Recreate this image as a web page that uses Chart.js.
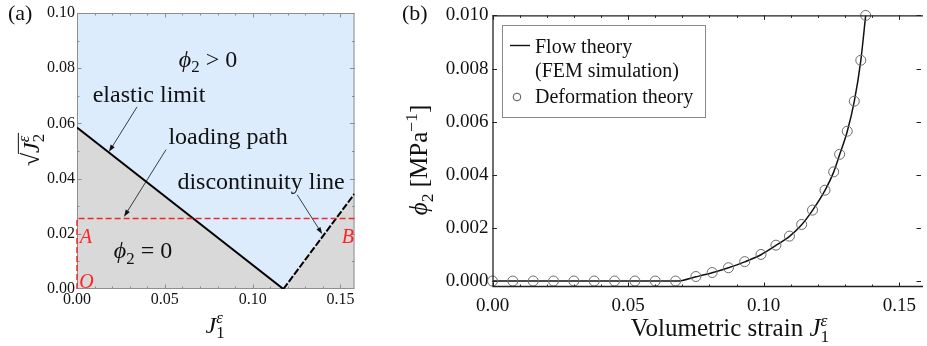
<!DOCTYPE html>
<html>
<head>
<meta charset="utf-8">
<script src="https://cdn.jsdelivr.net/npm/chart.js@4.4.1/dist/chart.umd.min.js"></script>
<style>
  html, body { margin: 0; padding: 0; background: #fff; }
  #wrap { position: relative; width: 927px; height: 346px; overflow: hidden; }
  #cA { position: absolute; left: 0; top: 0; }
  #cB { position: absolute; left: 400px; top: 0; }
</style>
</head>
<body>
<div id="wrap">
  <canvas id="cA" width="375" height="346"></canvas>
  <canvas id="cB" width="527" height="346"></canvas>
</div>
<script>
// ---- (a) strain-space diagram ----
const elasticJ1 = [0, 0.1175];
const elasticJ2 = [0.0585, 0];
const discJ1 = [0.1175, 0.158];
const discJ2 = [0, 0.0345];
const pathJ1 = [0, 0, 0.158];
const pathJ2 = [0, 0.0255, 0.0255];
const ticksAx = [0, 0.05, 0.10, 0.15];
const ticksAy = [0, 0.02, 0.04, 0.06, 0.08, 0.10];

// ---- (b) phi_2 vs volumetric strain ----
const flowJ1 = [0, 0.068, 0.075, 0.081, 0.087, 0.093, 0.099, 0.1045, 0.1095, 0.114, 0.118,
                0.1226, 0.1258, 0.128, 0.1308, 0.1334, 0.1358, 0.1376];
const flowPhi = [0, 0, 0.00016, 0.00031, 0.0005, 0.00072, 0.00099, 0.00134, 0.00168, 0.00212, 0.00266,
                 0.00341, 0.0041, 0.00476, 0.00563, 0.00676, 0.0083, 0.0100];
const deformJ1 = [0, 0.0075, 0.015, 0.0225, 0.03, 0.0375, 0.045, 0.0525, 0.06, 0.0675,
                  0.075, 0.081, 0.087, 0.093, 0.099, 0.1045, 0.1095, 0.114, 0.118,
                  0.1226, 0.1258, 0.128, 0.1308, 0.1334, 0.1358, 0.1376];
const deformPhi = [0, 0, 0, 0, 0, 0, 0, 0, 0, 0,
                   0.00017, 0.00032, 0.0005, 0.00073, 0.001, 0.00135, 0.00169, 0.00213, 0.00267,
                   0.00342, 0.00411, 0.00477, 0.00564, 0.00677, 0.00831, 0.0100];
const ticksBx = [0, 0.05, 0.10, 0.15];
const ticksBy = [0, 0.002, 0.004, 0.006, 0.008, 0.010];

const SERIF = '"Liberation Serif", "DejaVu Serif", serif';
const pts = (xs, ys) => xs.map((x, i) => ({ x: x, y: ys[i] }));

// draw a row of text runs (italic / subscript / superscript), returns layout info
function drawRuns(ctx, runs, x, y, size, opts) {
  opts = opts || {};
  ctx.save();
  ctx.fillStyle = opts.color || '#111';
  ctx.textBaseline = 'alphabetic';
  ctx.textAlign = 'left';
  let cursor = 0, prevX = 0, prevW = 0;
  const parts = runs.map(r => {
    const fs = (r.sub || r.sup) ? size * 0.7 : size;
    const f = (r.it ? 'italic ' : '') + fs + 'px ' + SERIF;
    ctx.font = f;
    const w = ctx.measureText(r.t).width;
    let px;
    if (r.stack) { px = prevX; cursor = prevX + Math.max(prevW, w); }
    else { px = cursor; cursor += w; }
    prevX = px; prevW = w;
    const dy = r.sub ? size * 0.22 : (r.sup ? -size * 0.42 : 0);
    return { t: r.t, f: f, px: px, dy: dy, w: w };
  });
  const total = cursor;
  const align = opts.align || 'center';
  const x0 = align === 'center' ? x - total / 2 : (align === 'right' ? x - total : x);
  parts.forEach(p => { ctx.font = p.f; ctx.fillText(p.t, x0 + p.px, y + p.dy); });
  ctx.restore();
  return { x0: x0, total: total, parts: parts };
}

function arrow(ctx, x0, y0, x1, y1) {
  const a = Math.atan2(y1 - y0, x1 - x0);
  const c = Math.cos(a), s = Math.sin(a);
  ctx.save();
  ctx.strokeStyle = '#111';
  ctx.fillStyle = '#111';
  ctx.lineWidth = 0.8;
  ctx.beginPath();
  ctx.moveTo(x0, y0);
  ctx.lineTo(x1 - 5 * c, y1 - 5 * s);
  ctx.stroke();
  ctx.beginPath();
  ctx.moveTo(x1, y1);
  ctx.lineTo(x1 - 7 * c + 2.4 * s, y1 - 7 * s - 2.4 * c);
  ctx.lineTo(x1 - 7 * c - 2.4 * s, y1 - 7 * s + 2.4 * c);
  ctx.closePath();
  ctx.fill();
  ctx.restore();
}

// inward tick marks on all four sides of the plot area
function drawTicks(chart, o) {
  const { ctx, chartArea: a, scales: { x, y } } = chart;
  ctx.save();
  ctx.strokeStyle = o.color;
  ctx.lineWidth = 1;
  ctx.beginPath();
  const xt = (v, len) => {
    const px = Math.round(x.getPixelForValue(v)) + 0.5;
    if (px < a.left || px > a.right) return;
    ctx.moveTo(px, a.bottom); ctx.lineTo(px, a.bottom - len);
    ctx.moveTo(px, a.top); ctx.lineTo(px, a.top + len);
  };
  const yt = (v, len) => {
    const py = Math.round(y.getPixelForValue(v)) + 0.5;
    if (py < a.top || py > a.bottom) return;
    ctx.moveTo(a.left, py); ctx.lineTo(a.left + len, py);
    ctx.moveTo(a.right, py); ctx.lineTo(a.right - len, py);
  };
  o.xMinor.forEach(v => xt(v, 2.5));
  o.xMajor.forEach(v => xt(v, 4.5));
  o.yMinor.forEach(v => yt(v, 2.5));
  o.yMajor.forEach(v => yt(v, 4.5));
  ctx.stroke();
  ctx.restore();
}

function steps(from, to, step) {
  const out = [];
  for (let v = from; v <= to + 1e-9; v += step) out.push(+v.toFixed(6));
  return out;
}

// ---------------- panel (a) ----------------
const regionA = {
  id: 'regionA',
  beforeDatasetsDraw(chart) {
    const { ctx, chartArea: a } = chart;
    ctx.save();
    ctx.fillStyle = '#dcecfc';
    ctx.fillRect(a.left, a.top, a.right - a.left, a.bottom - a.top);
    ctx.restore();
  },
  afterDatasetDraw(chart, args) {
    if (args.index !== 3) return;
    const { ctx, chartArea: a } = chart;
    ctx.save();
    ctx.strokeStyle = '#8e8e8e';
    ctx.lineWidth = 1;
    ctx.strokeRect(a.left + 0.5, a.top + 0.5, a.right - a.left - 1, a.bottom - a.top - 1);
    ctx.restore();
    drawTicks(chart, {
      color: '#8e8e8e', xMajor: ticksAx, yMajor: ticksAy,
      xMinor: steps(0, 0.16, 0.01), yMinor: steps(0, 0.1, 0.01)
    });
  },
  afterDraw(chart) {
    const { ctx, scales: { x, y } } = chart;
    const P = (j1, j2) => [x.getPixelForValue(j1), y.getPixelForValue(j2)];
    const phi = [{ t: 'ϕ', it: true }, { t: '2', sub: true }];

    let p = P(0.0746, 0.0804);
    drawRuns(ctx, phi.concat([{ t: ' > 0' }]), p[0], p[1], 24);
    p = P(0.0376, 0.0111);
    drawRuns(ctx, phi.concat([{ t: ' = 0' }]), p[0], p[1], 24);
    p = P(0.041, 0.0679);
    drawRuns(ctx, [{ t: 'elastic limit' }], p[0], p[1], 24);
    p = P(0.086, 0.0525);
    drawRuns(ctx, [{ t: 'loading path' }], p[0], p[1], 24);
    p = P(0.1048, 0.0361);
    drawRuns(ctx, [{ t: 'discontinuity line' }], p[0], p[1], 24);

    const red = { color: '#f22' };
    p = P(0.0051, 0.0166);
    drawRuns(ctx, [{ t: 'A', it: true }], p[0], p[1], 20, red);
    p = P(0.1542, 0.0166);
    drawRuns(ctx, [{ t: 'B', it: true }], p[0], p[1], 20, red);
    p = P(0.0054, 0.0003);
    drawRuns(ctx, [{ t: 'O', it: true }], p[0], p[1], 20, red);

    let s = P(0.0342, 0.066), e = P(0.0182, 0.0497);
    arrow(ctx, s[0], s[1], e[0], e[1]);
    s = P(0.0507, 0.0505); e = P(0.0268, 0.0262);
    arrow(ctx, s[0], s[1], e[0], e[1]);
    s = P(0.1254, 0.0341); e = P(0.1396, 0.0199);
    arrow(ctx, s[0], s[1], e[0], e[1]);

    // axis titles
    drawRuns(ctx, [{ t: 'J', it: true }, { t: '1', sub: true }, { t: 'ε', it: true, sup: true, stack: true }],
      215, 333, 24);
    ctx.save();
    ctx.translate(31, 150);
    ctx.rotate(-Math.PI / 2);
    const lay = drawRuns(ctx, [{ t: '√' }, { t: 'J', it: true }, { t: '2', sub: true },
      { t: 'ε', it: true, sup: true, stack: true }], 0, 8, 24);
    ctx.strokeStyle = '#111';
    ctx.lineWidth = 1;
    ctx.beginPath();
    ctx.moveTo(lay.x0 + lay.parts[0].w - 1, 8 - 24 * 0.86);
    ctx.lineTo(lay.x0 + lay.total + 1, 8 - 24 * 0.86);
    ctx.stroke();
    ctx.restore();

    drawRuns(ctx, [{ t: '(a)' }], 8, 20, 22, { align: 'left' });
  }
};

new Chart(document.getElementById('cA'), {
  type: 'scatter',
  data: {
    datasets: [
      {
        label: 'loading path',
        data: pts(pathJ1, pathJ2),
        showLine: true, pointRadius: 0,
        borderColor: '#f02828', borderWidth: 1.5, borderDash: [6, 3],
        clip: 4
      },
      {
        label: 'elastic limit',
        data: pts(elasticJ1, elasticJ2),
        showLine: true, pointRadius: 0,
        borderColor: '#000', borderWidth: 2
      },
      {
        label: 'discontinuity line',
        data: pts(discJ1, discJ2),
        showLine: true, pointRadius: 0,
        borderColor: '#000', borderWidth: 2, borderDash: [7, 2]
      },
      {
        label: 'phi2 = 0',
        data: pts(elasticJ1.concat(discJ1.slice(1)), elasticJ2.concat(discJ2.slice(1))),
        showLine: true, pointRadius: 0, borderWidth: 0,
        borderColor: 'rgba(0,0,0,0)',
        backgroundColor: '#d9d9d9',
        fill: 'start'
      }
    ]
  },
  options: {
    responsive: false,
    animation: false,
    events: [],
    layout: { padding: { left: 0, top: 13, right: 20.5, bottom: 0 } },
    plugins: { legend: { display: false }, tooltip: { enabled: false } },
    scales: {
      x: {
        type: 'linear', min: 0, max: 0.158,
        grid: { display: false, drawTicks: false }, border: { display: false },
        afterBuildTicks: s => { s.ticks = ticksAx.map(v => ({ value: v })); },
        afterFit: s => { s.height = 57; },
        ticks: { padding: 1, color: '#111', font: { family: SERIF, size: 16 }, maxRotation: 0,
          callback: v => v.toFixed(2) }
      },
      y: {
        type: 'linear', min: 0, max: 0.10,
        grid: { display: false, drawTicks: false }, border: { display: false },
        afterBuildTicks: s => { s.ticks = ticksAy.map(v => ({ value: v })); },
        afterFit: s => { s.width = 77; },
        ticks: { padding: 2, color: '#111', font: { family: SERIF, size: 16 },
          callback: v => v.toFixed(2) }
      }
    }
  },
  plugins: [regionA]
});

// ---------------- panel (b) ----------------
const decorB = {
  id: 'decorB',
  afterDatasetsDraw(chart) {
    const { ctx, chartArea: a } = chart;
    ctx.save();
    ctx.strokeStyle = '#222';
    ctx.lineWidth = 1.3;
    ctx.beginPath();
    ctx.moveTo(a.right + 2, a.top + 0.5);
    ctx.lineTo(a.left + 0.5, a.top + 0.5);
    ctx.lineTo(a.left + 0.5, a.bottom - 0.5);
    ctx.lineTo(a.right + 2, a.bottom - 0.5);
    ctx.stroke();
    ctx.restore();
    drawTicks(chart, {
      color: '#222', xMajor: ticksBx, yMajor: ticksBy,
      xMinor: steps(0, 0.16, 0.01), yMinor: []
    });
  },
  afterDraw(chart) {
    const { ctx } = chart;
    // legend
    ctx.save();
    ctx.fillStyle = '#fff';
    ctx.fillRect(102, 25, 203, 92);
    ctx.strokeStyle = '#8a8a8a';
    ctx.lineWidth = 1;
    ctx.strokeRect(102.5, 25.5, 203, 92);
    ctx.strokeStyle = '#111';
    ctx.lineWidth = 1.4;
    ctx.beginPath();
    ctx.moveTo(110, 45.5); ctx.lineTo(130, 45.5);
    ctx.stroke();
    ctx.strokeStyle = '#555';
    ctx.lineWidth = 1;
    ctx.beginPath();
    ctx.arc(117, 97, 3.8, 0, Math.PI * 2);
    ctx.stroke();
    ctx.restore();
    drawRuns(ctx, [{ t: 'Flow theory' }], 135, 53, 20, { align: 'left' });
    drawRuns(ctx, [{ t: '(FEM simulation)' }], 135, 77, 20, { align: 'left' });
    drawRuns(ctx, [{ t: 'Deformation theory' }], 135, 103, 20, { align: 'left' });

    // axis titles
    drawRuns(ctx, [{ t: 'Volumetric strain ' }, { t: 'J', it: true }, { t: '1', sub: true },
      { t: 'ε', it: true, sup: true, stack: true }], 330, 336, 25);
    ctx.save();
    ctx.translate(19, 160);
    ctx.rotate(-Math.PI / 2);
    drawRuns(ctx, [{ t: 'ϕ', it: true }, { t: '2', sub: true }, { t: ' [MPa' },
      { t: '−1', sup: true }, { t: ']' }], 0, 8, 25);
    ctx.restore();

    drawRuns(ctx, [{ t: '(b)' }], 2, 20, 22, { align: 'left' });
  }
};

new Chart(document.getElementById('cB'), {
  type: 'scatter',
  data: {
    datasets: [
      {
        label: 'Deformation theory',
        data: pts(deformJ1, deformPhi),
        pointStyle: 'circle', pointRadius: 5,
        borderColor: '#6a6a6a', borderWidth: 1,
        backgroundColor: 'rgba(0,0,0,0)',
        clip: false
      },
      {
        label: 'Flow theory (FEM simulation)',
        data: pts(flowJ1, flowPhi),
        showLine: true, pointRadius: 0,
        borderColor: '#111', borderWidth: 1.5,
        cubicInterpolationMode: 'monotone'
      }
    ]
  },
  options: {
    responsive: false,
    animation: false,
    events: [],
    layout: { padding: { left: 0, top: 15, right: 0, bottom: 0 } },
    plugins: { legend: { display: false }, tooltip: { enabled: false } },
    scales: {
      x: {
        type: 'linear', min: 0, max: 0.158,
        grid: { display: false, drawTicks: false }, border: { display: false },
        afterBuildTicks: s => { s.ticks = ticksBx.map(v => ({ value: v })); },
        afterFit: s => { s.height = 59; },
        ticks: { padding: 8, color: '#111', font: { family: SERIF, size: 19 }, maxRotation: 0,
          callback: v => v.toFixed(2) }
      },
      y: {
        type: 'linear', min: -0.000225, max: 0.010,
        grid: { display: false, drawTicks: false }, border: { display: false },
        afterBuildTicks: s => { s.ticks = ticksBy.map(v => ({ value: v })); },
        afterFit: s => { s.width = 92.5; },
        ticks: { padding: 4, color: '#111', font: { family: SERIF, size: 19 },
          callback: v => v.toFixed(3) }
      }
    }
  },
  plugins: [decorB]
});
</script>
</body>
</html>
